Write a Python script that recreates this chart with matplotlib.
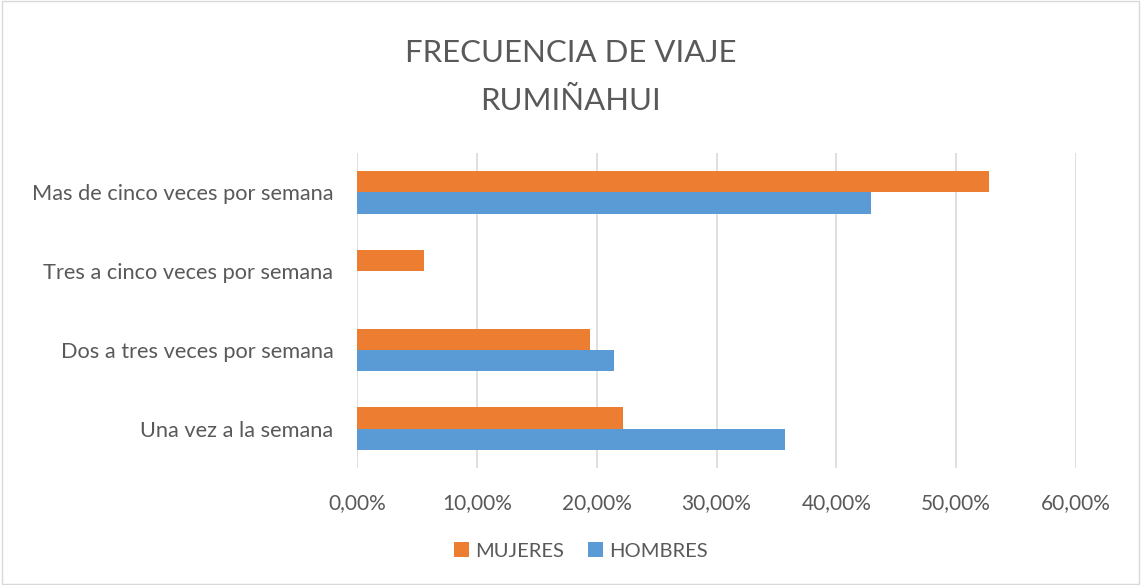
import matplotlib.pyplot as plt
import numpy as np
from matplotlib.ticker import FuncFormatter

categories = ["Una vez a la semana", "Dos a tres veces por semana",
              "Tres a cinco veces por semana", "Mas de cinco veces por semana"]
mujeres = [0.2222, 0.1944, 0.0556, 0.5278]
hombres = [0.3571, 0.2143, 0.0, 0.4286]
xticks = [0, 0.1, 0.2, 0.3, 0.4, 0.5, 0.6]

orange = "#ed7d31"
blue = "#5b9bd5"
text_c = "#595959"

plt.rcParams['font.family'] = ['Lato', 'DejaVu Sans']

fig = plt.figure(figsize=(11.41, 5.85), dpi=100)
ax = fig.add_axes([357 / 1141, 1 - 468 / 585, (1076 - 357) / 1141, (468 - 153) / 585])

y = np.arange(len(categories))
h = 0.27
ax.barh(y - h / 2, hombres, height=h, color=blue, label="HOMBRES", zorder=3)
ax.barh(y + h / 2, mujeres, height=h, color=orange, label="MUJERES", zorder=3)

ax.set_xlim(0, 0.6)
ax.set_ylim(-0.5, len(categories) - 0.5)
ax.set_xticks(xticks)
ax.xaxis.set_major_formatter(FuncFormatter(lambda v, p: f"{v * 100:.2f}%".replace(".", ",")))
ax.set_yticks(y)
ax.set_yticklabels(categories)
ax.tick_params(axis='both', length=0, labelsize=15, colors=text_c)
ax.tick_params(axis='y', labelsize=15.7, pad=17)
ax.tick_params(axis='x', pad=18)
ax.grid(axis='x', color="#d9d9d9", linewidth=1.2, zorder=0)
for s in ax.spines.values():
    s.set_visible(False)

fig.text(0.5, 1 - 53 / 585, "FRECUENCIA DE VIAJE", ha='center', va='center',
         fontsize=22.4, color=text_c)
fig.text(0.5, 1 - 101 / 585, "RUMIÑAHUI", ha='center', va='center',
         fontsize=22.4, color=text_c)

handles, labels = ax.get_legend_handles_labels()
fig.legend(handles[::-1], labels[::-1], loc='center', bbox_to_anchor=(581 / 1141, 1 - 551 / 585),
           ncol=2, frameon=False, fontsize=14.5, handlelength=0.75, handleheight=0.75,
           handletextpad=0.3, columnspacing=1.2, labelcolor=text_c)

fig.patches.append(plt.Rectangle((0.002, 0.002), 0.996, 0.996, transform=fig.transFigure,
                                 fill=False, edgecolor="#d9d9d9", linewidth=1))

fig.savefig("out.png", dpi=100)
